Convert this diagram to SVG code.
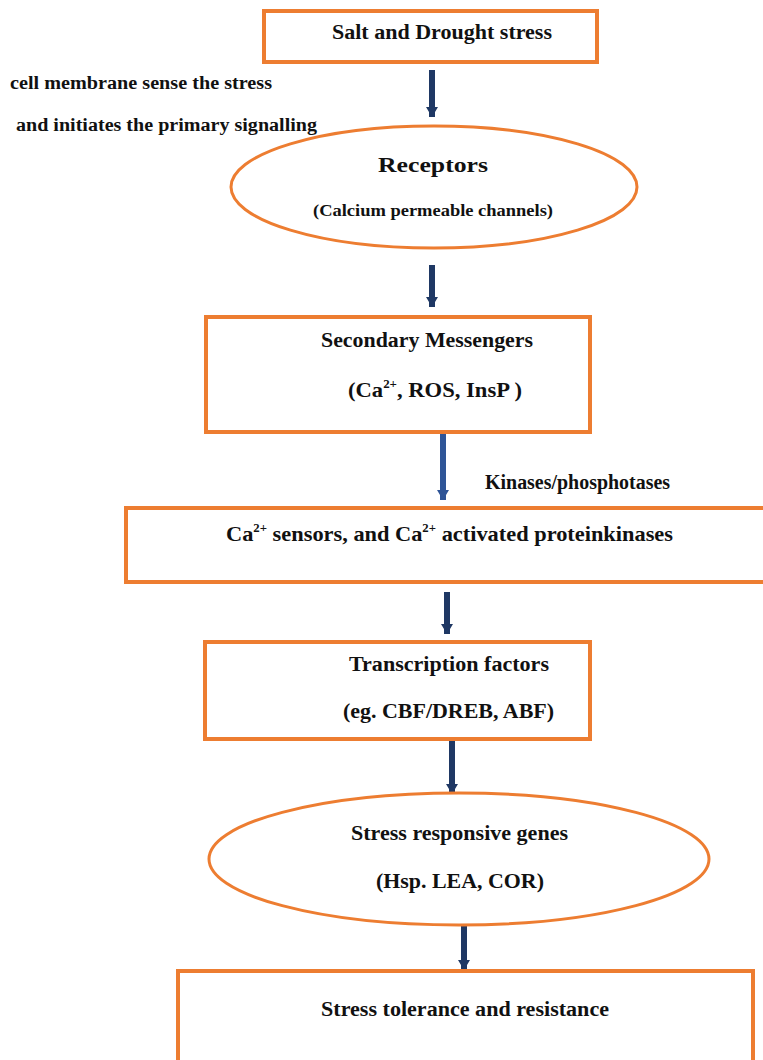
<svg xmlns="http://www.w3.org/2000/svg" width="763" height="1060" viewBox="0 0 763 1060">
<style>
.box{fill:#fff;stroke:#ED7D31;stroke-width:4}
.ell{fill:#fff;stroke:#ED7D31;stroke-width:3}
.t{font-family:"Liberation Serif","Times New Roman",serif;font-weight:bold;fill:#111;font-size:20px}
.s{font-size:16px}
.sup{font-size:12px}
.arr{stroke:#1F3864;stroke-width:6;fill:none;marker-end:url(#ah)}
.arr2{stroke:#2F5597;stroke-width:6;fill:none;marker-end:url(#ah2)}
</style>
<defs>
<marker id="ah" markerUnits="userSpaceOnUse" markerWidth="18" markerHeight="12" refX="10" refY="6" orient="auto" viewBox="0 0 10 12">
<path d="M0,0 L10,6 L0,12 Z" fill="#1F3864"/>
</marker>
<marker id="ah2" markerUnits="userSpaceOnUse" markerWidth="18" markerHeight="12" refX="10" refY="6" orient="auto" viewBox="0 0 10 12">
<path d="M0,0 L10,6 L0,12 Z" fill="#2F5597"/>
</marker>
</defs>
<rect width="763" height="1060" fill="#fff"/>

<g id="connectors">
<line class="arr" x1="432" y1="70" x2="432" y2="117"/>
<line class="arr" x1="432" y1="265" x2="432" y2="307"/>
<line class="arr2" x1="443" y1="432" x2="443" y2="500"/>
<line class="arr" x1="447" y1="592" x2="447" y2="634"/>
<line class="arr" x1="452" y1="739" x2="452" y2="794"/>
<line class="arr" x1="464" y1="925" x2="464" y2="970"/>
</g>

<g id="label-membrane">
<text class="t" x="10" y="89" textLength="262" lengthAdjust="spacingAndGlyphs" style="font-size:18px">cell membrane sense the stress</text>
<text class="t" x="16" y="131" textLength="301" lengthAdjust="spacingAndGlyphs" style="font-size:18px">and initiates the primary signalling</text>
</g>

<g id="node-stress">
<rect class="box" x="264" y="11" width="333" height="51"/>
<text class="t" x="332" y="39" textLength="220" lengthAdjust="spacingAndGlyphs">Salt and Drought stress</text>
</g>

<g id="node-receptors">
<ellipse class="ell" cx="434" cy="187" rx="203" ry="61"/>
<text class="t" x="378" y="172" textLength="110" lengthAdjust="spacingAndGlyphs">Receptors</text>
<text class="t s" x="313" y="216" textLength="240" lengthAdjust="spacingAndGlyphs">(Calcium permeable channels)</text>
</g>

<g id="node-secondary">
<rect class="box" x="206" y="317" width="384" height="115"/>
<text class="t" x="321" y="347" textLength="212" lengthAdjust="spacingAndGlyphs">Secondary Messengers</text>
<text class="t" x="348" y="397" style="font-size:21px" textLength="174" lengthAdjust="spacingAndGlyphs">(Ca<tspan class="sup" dy="-9">2+</tspan><tspan dy="9">, ROS, InsP )</tspan></text>
</g>

<g id="label-kinases">
<text class="t" x="485" y="489" textLength="185" lengthAdjust="spacingAndGlyphs">Kinases/phosphotases</text>
</g>

<g id="node-sensors">
<rect class="box" x="126" y="508" width="650" height="74"/>
<text class="t" x="226" y="541" style="font-size:21px" textLength="447" lengthAdjust="spacingAndGlyphs">Ca<tspan class="sup" dy="-9">2+</tspan><tspan dy="9"> sensors, and Ca</tspan><tspan class="sup" dy="-9">2+</tspan><tspan dy="9"> activated proteinkinases</tspan></text>
</g>

<g id="node-tf">
<rect class="box" x="205" y="642" width="385" height="97"/>
<text class="t" x="349" y="671" textLength="200" lengthAdjust="spacingAndGlyphs">Transcription factors</text>
<text class="t" x="343" y="718" textLength="211" lengthAdjust="spacingAndGlyphs">(eg. CBF/DREB, ABF)</text>
</g>

<g id="node-genes">
<ellipse class="ell" cx="459" cy="859" rx="250" ry="66"/>
<text class="t" x="351" y="840" textLength="217" lengthAdjust="spacingAndGlyphs">Stress responsive genes</text>
<text class="t" x="376" y="888" textLength="168" lengthAdjust="spacingAndGlyphs">(Hsp. LEA, COR)</text>
</g>

<g id="node-tolerance">
<rect class="box" x="178" y="971" width="575" height="100"/>
<text class="t" x="321" y="1016" textLength="288" lengthAdjust="spacingAndGlyphs">Stress tolerance and resistance</text>
</g>
</svg>
